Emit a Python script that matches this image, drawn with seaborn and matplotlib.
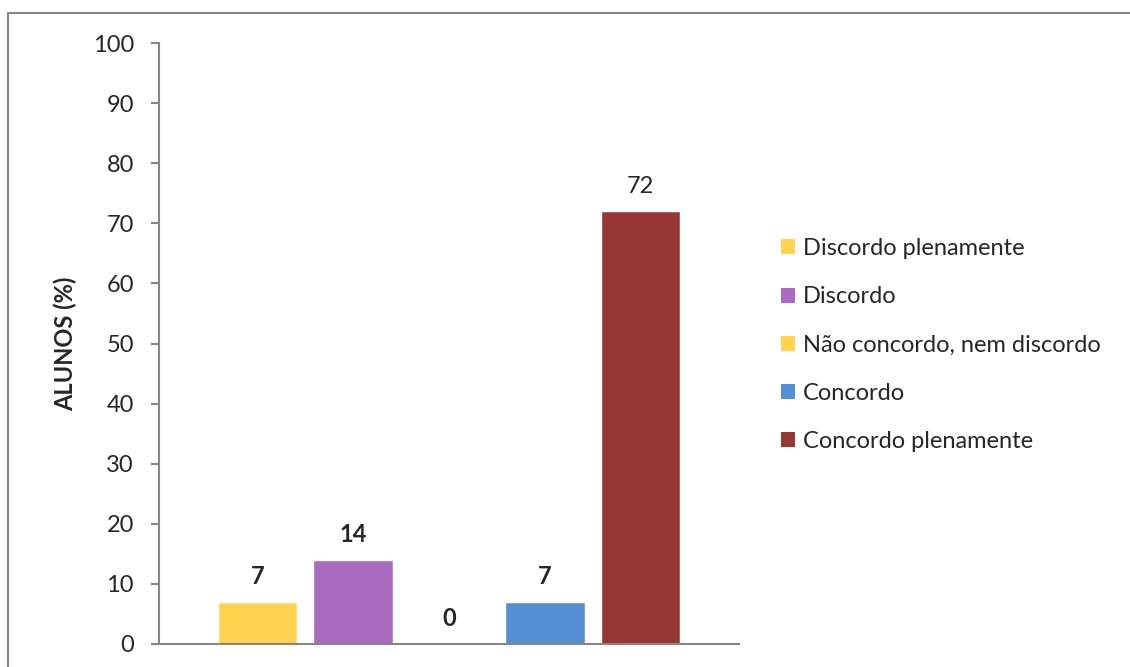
import matplotlib
matplotlib.use("Agg")
import matplotlib.pyplot as plt
import seaborn as sns
from matplotlib.patches import Rectangle, Patch

categories = ["Discordo plenamente", "Discordo", "Não concordo, nem discordo",
              "Concordo", "Concordo plenamente"]
values = [7, 14, 0, 7, 72]
label_bold = [True, True, True, True, False]
colors = ["#FFD34F", "#A86BC0", "#FFD34F", "#558ED5", "#953735"]
yticks = list(range(0, 101, 10))

sns.set_style("white")
plt.rcParams["font.family"] = ["Lato", "DejaVu Sans"]
FS = 17

fig = plt.figure(figsize=(11.3, 6.67), dpi=100)
ax = fig.add_axes([159/1130, 1 - 644/667, (739-159)/1130, (644-43)/667])

sns.barplot(x=categories, y=values, hue=categories, palette=colors,
            width=0.833, dodge=False, legend=False, ax=ax, order=categories,
            hue_order=categories, saturation=1)

ax.set_xlim(-1.03, 5.03)
ax.set_ylim(0, 100)
ax.set_yticks(yticks)
ax.set_yticklabels([str(t) for t in yticks], fontsize=FS)
ax.set_xticks([])
ax.set_xlabel("")
ax.set_ylabel("ALUNOS (%)", fontsize=FS, fontweight="bold", labelpad=11)
for s in ["top", "right"]:
    ax.spines[s].set_visible(False)
for s in ["left", "bottom"]:
    ax.spines[s].set_color("#868686")
    ax.spines[s].set_linewidth(1.5)
ax.tick_params(axis="y", which="both", left=True, length=6, width=1.5,
               color="#868686", pad=12, direction="out")

for i, (v, b) in enumerate(zip(values, label_bold)):
    ax.annotate(str(v), (i, v), xytext=(0, 18), textcoords="offset points",
                ha="center", va="center", fontsize=FS,
                fontweight="bold" if b else "normal")

handles = [Patch(facecolor=c, edgecolor="none") for c in colors]
fig.legend(handles, categories, loc="center left",
           bbox_to_anchor=(781/1130, 1 - 345/667), frameon=False,
           fontsize=FS, handlelength=0.6, handleheight=0.6,
           handletextpad=0.34, labelspacing=1.15, borderpad=0, borderaxespad=0)

fig.patches.append(Rectangle((8/1130, -0.1), 1.2, 1 - 13/667 + 0.1,
                             transform=fig.transFigure, fill=False,
                             edgecolor="#868686", linewidth=1.5))

fig.savefig("out.png", dpi=100, facecolor="white")
